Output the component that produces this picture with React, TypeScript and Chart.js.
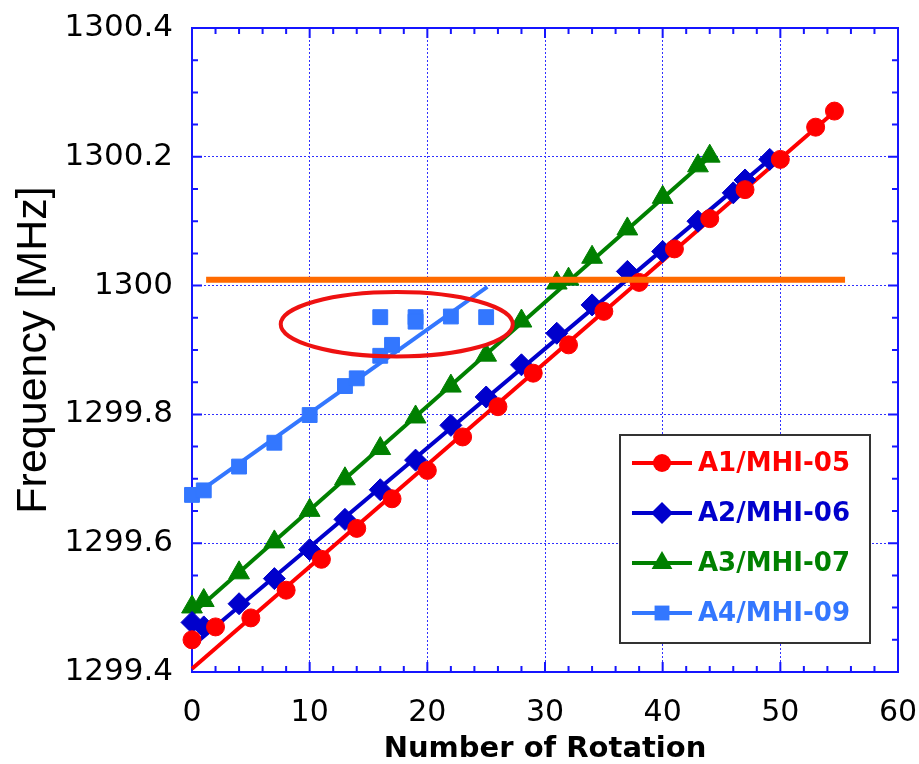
import React, { useEffect, useRef } from 'react';
import { Chart, registerables } from 'chart.js';

Chart.register(...registerables);

// ---------- data ----------
const xTicks = [0, 10, 20, 30, 40, 50, 60];
const xTickLabels = ['0', '10', '20', '30', '40', '50', '60'];
const yTicks = [1299.4, 1299.6, 1299.8, 1300, 1300.2, 1300.4];
const yTickLabels = ['1299.4', '1299.6', '1299.8', '1300', '1300.2', '1300.4'];

const seriesNames = ['A1/MHI-05', 'A2/MHI-06', 'A3/MHI-07', 'A4/MHI-09'];

const a1X = [0, 2, 5, 8, 11, 14, 17, 20, 23, 26, 29, 32, 35, 38, 41, 44, 47, 50, 53, 54.6];
const a1Y = [1299.45, 1299.47, 1299.484, 1299.527, 1299.575, 1299.623, 1299.669, 1299.713, 1299.765, 1299.812,
  1299.864, 1299.908, 1299.96, 1300.005, 1300.057, 1300.104, 1300.149, 1300.196, 1300.246, 1300.271];

const a2X = [0, 1, 4, 7, 10, 13, 16, 19, 22, 25, 28, 31, 34, 37, 40, 43, 46, 47, 49.1];
const a2Y = [1299.477, 1299.47, 1299.506, 1299.545, 1299.59, 1299.637, 1299.683, 1299.729, 1299.783, 1299.827,
  1299.877, 1299.926, 1299.97, 1300.022, 1300.053, 1300.1, 1300.144, 1300.164, 1300.196];

const a3X = [0, 1, 4, 7, 10, 13, 16, 19, 22, 25, 28, 31, 32, 34, 37, 40, 43, 44];
const a3Y = [1299.501, 1299.511, 1299.554, 1299.602, 1299.651, 1299.7, 1299.747, 1299.796, 1299.844, 1299.892,
  1299.945, 1300.004, 1300.01, 1300.044, 1300.088, 1300.137, 1300.186, 1300.201];

const a4X = [0, 1, 4, 7, 10, 13, 14, 16, 17, 16, 19, 19, 22, 25];
const a4Y = [1299.675, 1299.682, 1299.719, 1299.756, 1299.799, 1299.844, 1299.856, 1299.891, 1299.908,
  1299.951, 1299.951, 1299.944, 1299.952, 1299.951];

// linear fit lines (start, end)
const a1FitX = [0, 54.6];
const a1FitY = [1299.405, 1300.27];
const a2FitX = [0, 49.1];
const a2FitY = [1299.44, 1300.196];
const a3FitX = [0, 44];
const a3FitY = [1299.49, 1300.2];
const a4FitX = [0, 25.1];
const a4FitY = [1299.672, 1299.998];

// target frequency line
const targetX = [1.2, 55.5];
const targetY = [1300.009, 1300.009];

// highlighted group (ellipse in data units)
const ellipseCenter = [17.4, 1299.94];
const ellipseRadius = [9.86, 0.05];

// ---------- styles ----------
const RED = '#ff0000';
const BLUE = '#0000cc';
const GREEN = '#008000';
const LIGHT = '#3377ff';
const ORANGE = '#ff6a00';
const AXIS = '#1515ff';
const GRID = '#3030ff';

const seriesColors = [RED, BLUE, GREEN, LIGHT];
const seriesMarkers = ['circle', 'rectRot', 'triangle', 'rect'];
const markerRadius = [9, 11, 12, 10.5];

const pts = (xs: number[], ys: number[]) => xs.map((x, i) => ({ x, y: ys[i] }));

function drawMarker(ctx: CanvasRenderingContext2D, style: string, x: number, y: number, r: number) {
  ctx.beginPath();
  if (style === 'circle') {
    ctx.arc(x, y, r, 0, Math.PI * 2);
  } else if (style === 'rectRot') {
    ctx.moveTo(x - r, y);
    ctx.lineTo(x, y - r);
    ctx.lineTo(x + r, y);
    ctx.lineTo(x, y + r);
    ctx.closePath();
  } else if (style === 'triangle') {
    for (let k = 0; k < 3; k++) {
      const a = (k * 2 * Math.PI) / 3;
      const px = x + Math.sin(a) * r;
      const py = y - Math.cos(a) * r;
      if (k === 0) ctx.moveTo(px, py);
      else ctx.lineTo(px, py);
    }
    ctx.closePath();
  } else {
    const s = r * Math.SQRT1_2;
    ctx.rect(x - s, y - s, 2 * s, 2 * s);
  }
  ctx.fill();
}

const decorPlugin = {
  id: 'decor',
  beforeDatasetsDraw(chart: any) {
    const { ctx, chartArea: a, scales } = chart;
    const xs = scales.x;
    const ys = scales.y;
    ctx.save();
    ctx.strokeStyle = AXIS;
    ctx.lineWidth = 2;
    ctx.beginPath();
    for (let v = 0; v <= 60; v += 2) {
      const px = xs.getPixelForValue(v);
      const len = v % 10 === 0 ? 10 : 6;
      ctx.moveTo(px, a.bottom);
      ctx.lineTo(px, a.bottom - len);
      ctx.moveTo(px, a.top);
      ctx.lineTo(px, a.top + len);
    }
    for (let i = 0; i <= 20; i++) {
      const py = ys.getPixelForValue(1299.4 + i * 0.05);
      const len = i % 4 === 0 ? 10 : 6;
      ctx.moveTo(a.left, py);
      ctx.lineTo(a.left + len, py);
      ctx.moveTo(a.right, py);
      ctx.lineTo(a.right - len, py);
    }
    ctx.stroke();
    ctx.strokeRect(a.left, a.top, a.right - a.left, a.bottom - a.top);
    ctx.restore();
  },
  afterDatasetsDraw(chart: any) {
    const { ctx, scales } = chart;
    const xs = scales.x;
    const ys = scales.y;
    const cx = xs.getPixelForValue(ellipseCenter[0]);
    const cy = ys.getPixelForValue(ellipseCenter[1]);
    const rx = Math.abs(xs.getPixelForValue(ellipseCenter[0] + ellipseRadius[0]) - cx);
    const ry = Math.abs(ys.getPixelForValue(ellipseCenter[1] + ellipseRadius[1]) - cy);
    ctx.save();
    ctx.strokeStyle = '#ee1111';
    ctx.lineWidth = 4;
    ctx.beginPath();
    ctx.ellipse(cx, cy, rx, ry, 0, 0, Math.PI * 2);
    ctx.stroke();
    ctx.restore();
  },
  afterDraw(chart: any) {
    const { ctx } = chart;
    const box = { left: 620, top: 435, width: 250, height: 208 };
    ctx.save();
    ctx.fillStyle = '#ffffff';
    ctx.fillRect(box.left, box.top, box.width, box.height);
    ctx.strokeStyle = '#333333';
    ctx.lineWidth = 2;
    ctx.strokeRect(box.left, box.top, box.width, box.height);
    ctx.font = 'bold 26px "DejaVu Sans"';
    ctx.textBaseline = 'middle';
    ctx.textAlign = 'left';
    seriesNames.forEach((name, i) => {
      const rowY = box.top + 28 + i * 50;
      const c = seriesColors[i];
      ctx.strokeStyle = c;
      ctx.fillStyle = c;
      ctx.lineWidth = 4;
      ctx.beginPath();
      ctx.moveTo(box.left + 12, rowY);
      ctx.lineTo(box.left + 72, rowY);
      ctx.stroke();
      drawMarker(ctx, seriesMarkers[i], box.left + 42, rowY, markerRadius[i]);
      ctx.fillText(name, box.left + 78, rowY + 1);
    });
    ctx.restore();
  },
};

export default function App() {
  const ref = useRef<HTMLCanvasElement | null>(null);

  useEffect(() => {
    if (!ref.current) return;
    const markerSet = (i: number, xs: number[], ys: number[], order: number) => ({
      label: seriesNames[i],
      data: pts(xs, ys),
      showLine: false,
      pointStyle: seriesMarkers[i],
      pointRadius: markerRadius[i],
      backgroundColor: seriesColors[i],
      borderColor: seriesColors[i],
      pointBorderWidth: 1,
      clip: false,
      order,
    });
    const fitSet = (i: number, xs: number[], ys: number[], order: number) => ({
      label: seriesNames[i] + ' fit',
      data: pts(xs, ys),
      showLine: true,
      pointRadius: 0,
      borderColor: seriesColors[i],
      borderWidth: 4,
      clip: false,
      order,
    });
    const chart = new Chart(ref.current, {
      type: 'scatter',
      data: {
        datasets: [
          {
            label: 'target',
            data: pts(targetX, targetY),
            showLine: true,
            pointRadius: 0,
            borderColor: ORANGE,
            borderWidth: 6,
            order: 0,
          },
          markerSet(0, a1X, a1Y, 1),
          markerSet(1, a2X, a2Y, 2),
          markerSet(2, a3X, a3Y, 3),
          markerSet(3, a4X, a4Y, 4),
          fitSet(0, a1FitX, a1FitY, 5),
          fitSet(1, a2FitX, a2FitY, 6),
          fitSet(2, a3FitX, a3FitY, 7),
          fitSet(3, a4FitX, a4FitY, 8),
        ] as any,
      },
      options: {
        animation: false,
        responsive: false,
        layout: { padding: { left: 0, top: 28, right: 21, bottom: 0 } },
        plugins: {
          legend: { display: false },
          tooltip: { enabled: false },
        },
        scales: {
          x: {
            type: 'linear',
            min: 0,
            max: 60,
            afterBuildTicks: (s: any) => {
              s.ticks = xTicks.map((v) => ({ value: v }));
            },
            afterFit: (s: any) => {
              s.height = 92;
              s.paddingLeft = 0;
              s.paddingRight = 0;
            },
            grid: { color: GRID, lineWidth: 1, drawTicks: false },
            border: { display: false, dash: [2, 2] },
            ticks: {
              color: '#000',
              font: { family: '"DejaVu Sans"', size: 30 },
              padding: 23,
              maxRotation: 0,
              autoSkip: false,
              callback: (_v: any, i: number) => xTickLabels[i],
            },
            title: {
              display: true,
              text: 'Number of Rotation',
              color: '#000',
              font: { family: '"DejaVu Sans"', weight: 'bold', size: 29, lineHeight: 1 },
              padding: { top: 0, bottom: 0 },
            },
          },
          y: {
            type: 'linear',
            min: 1299.4,
            max: 1300.4,
            afterBuildTicks: (s: any) => {
              s.ticks = yTicks.map((v) => ({ value: v }));
            },
            afterFit: (s: any) => {
              s.width = 192;
              s.paddingTop = 0;
              s.paddingBottom = 0;
            },
            grid: { color: GRID, lineWidth: 1, drawTicks: false },
            border: { display: false, dash: [2, 2] },
            ticks: {
              color: '#000',
              font: { family: '"DejaVu Sans"', size: 31 },
              padding: 19,
              autoSkip: false,
              callback: (_v: any, i: number) => yTickLabels[i],
            },
            title: {
              display: true,
              text: 'Frequency [MHz]',
              color: '#000',
              font: { family: '"Liberation Sans", Arial', size: 43, lineHeight: 1 },
              padding: { top: 13, bottom: 0 },
            },
          },
        },
      } as any,
      plugins: [decorPlugin],
    });
    return () => chart.destroy();
  }, []);

  return (
    <div style={{ position: 'absolute', left: 0, top: 0, width: 919, height: 764, background: '#fff' }}>
      <canvas ref={ref} width={919} height={764} />
    </div>
  );
}
